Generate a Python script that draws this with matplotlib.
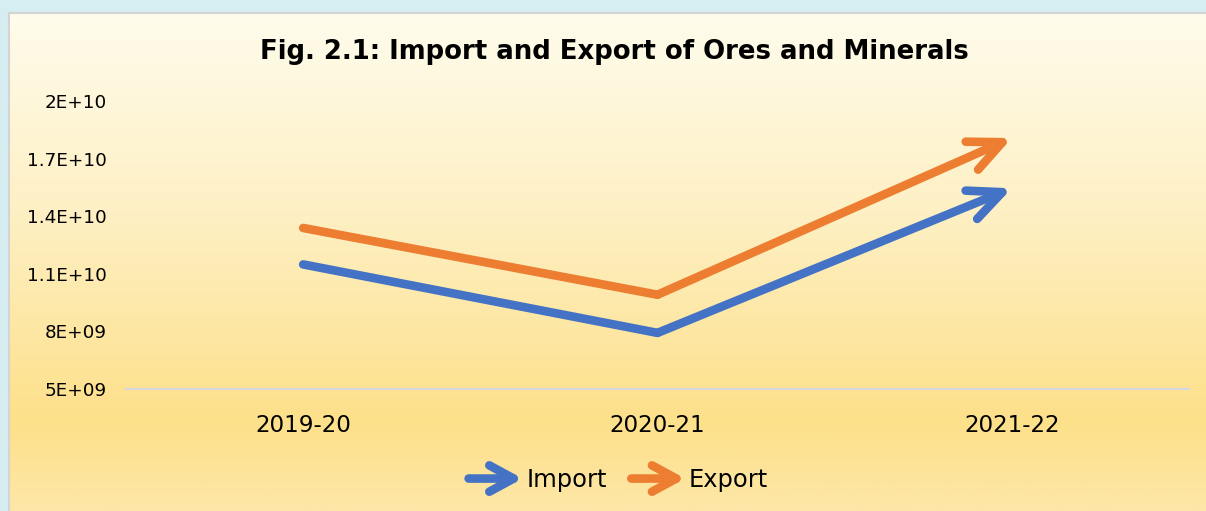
import numpy as np
import matplotlib
matplotlib.use('Agg')
import matplotlib.pyplot as plt
from matplotlib.colors import LinearSegmentedColormap
from matplotlib.legend_handler import HandlerBase
from matplotlib.patches import FancyArrowPatch
from matplotlib.lines import Line2D

years = ['2019-20', '2020-21', '2021-22']
imports = [11.48e9, 7.91e9, 15.45e9]
exports = [13.38e9, 9.90e9, 18.07e9]
y_ticks = [5e9, 8e9, 1.1e10, 1.4e10, 1.7e10, 2e10]
y_tick_labels = ['5E+09', '8E+09', '1.1E+10', '1.4E+10', '1.7E+10', '2E+10']

BLUE = '#4472c4'
ORANGE = '#ed7d31'
LW = 6.2
ARROW = '->,head_length=2.4,head_width=1.1'

plt.rcParams['font.family'] = ['DejaVu Sans']


class ArrowHandler(HandlerBase):
    # legend key drawn as an open arrow like the lines
    def create_artists(self, legend, orig_handle, xdescent, ydescent,
                       width, height, fontsize, trans):
        y = height / 2 - ydescent
        arr = FancyArrowPatch((-xdescent + 2, y), (-xdescent + width, y),
                              arrowstyle='->,head_length=1.75,head_width=0.95',
                              mutation_scale=10,
                              color=orig_handle.get_color(),
                              lw=orig_handle.get_linewidth(),
                              capstyle='round', joinstyle='round',
                              shrinkA=0, shrinkB=0, transform=trans)
        return [arr]


fig = plt.figure(figsize=(12.06, 5.11), dpi=100, facecolor='#d6edf1')

# gradient background of the chart area
bg = fig.add_axes([9 / 1206, 0, 1197 / 1206, 498 / 511], zorder=-5)
cmap = LinearSegmentedColormap.from_list(
    'bg', [(0, '#fffcec'), (0.4, '#fef0c4'), (0.82, '#fde08a'), (1, '#fde7a8')])
bg.imshow(np.linspace(0, 1, 256).reshape(-1, 1), cmap=cmap, aspect='auto',
          extent=[0, 1, 0, 1], origin='upper')
bg.set_xlim(0, 1)
bg.set_ylim(0, 1)
bg.set_xticks([])
bg.set_yticks([])
for side in ['right', 'bottom']:
    bg.spines[side].set_visible(False)
for side in ['top', 'left']:
    bg.spines[side].set_color('#d4d4d4')
    bg.spines[side].set_linewidth(1.5)

ax = fig.add_axes([126 / 1206, 1 - 388.7 / 511, 1063 / 1206, 287.7 / 511])
ax.set_facecolor('none')
x = np.arange(len(years))

for vals, color in [(imports, BLUE), (exports, ORANGE)]:
    ax.plot(x[:2], vals[:2], color=color, lw=LW, solid_capstyle='round',
            solid_joinstyle='round')
    ax.annotate('', xy=(x[2], vals[2]), xytext=(x[1], vals[1]),
                arrowprops=dict(arrowstyle=ARROW, color=color, lw=LW,
                                shrinkA=0, shrinkB=0, capstyle='round',
                                joinstyle='round', mutation_scale=10))

ax.set_xlim(-0.5, 2.5)
ax.set_ylim(5e9, 2e10)
ax.set_xticks(x)
ax.set_xticklabels(years, fontsize=16.6)
ax.set_yticks(y_ticks)
ax.set_yticklabels(y_tick_labels, fontsize=13.2)
ax.tick_params(axis='both', length=0)
ax.tick_params(axis='y', pad=14)
ax.tick_params(axis='x', pad=18)
for side in ['top', 'right', 'left']:
    ax.spines[side].set_visible(False)
ax.spines['bottom'].set_color('#d6d9e4')
ax.spines['bottom'].set_linewidth(1.5)

fig.text(614 / 1206, 1 - 52 / 511, 'Fig. 2.1: Import and Export of Ores and Minerals',
         ha='center', va='center', fontsize=18.7, fontweight='bold')

handles = [Line2D([], [], color=BLUE, lw=LW), Line2D([], [], color=ORANGE, lw=LW)]
fig.legend(handles, ['Import', 'Export'], loc='center',
           bbox_to_anchor=(617 / 1206, 1 - 480 / 511), ncol=2, frameon=False,
           fontsize=17.4, handlelength=2.35, handletextpad=0.15, columnspacing=0.9,
           handler_map={Line2D: ArrowHandler()})

fig.savefig('out.png', dpi=100, facecolor=fig.get_facecolor())
